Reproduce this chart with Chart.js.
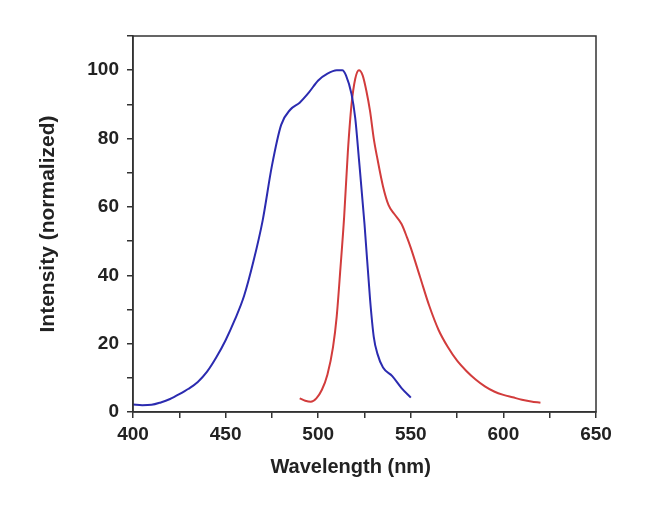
<!DOCTYPE html>
<html>
<head>
<meta charset="utf-8">
<script src="https://cdn.jsdelivr.net/npm/chart.js@4"></script>
<style>
  html, body { margin: 0; padding: 0; background: #fff; }
  #wrap { width: 650px; height: 517px; }
</style>
</head>
<body>
<div id="wrap"><canvas id="myChart"></canvas></div>
<script>
// excitation (blue) and emission (red) spectra
const blueX = [400, 405, 410, 415, 420, 425, 430, 435, 440, 445, 450, 455, 460, 465, 470, 475, 480, 485, 490, 495, 500, 505, 510, 513, 515, 518, 520, 522, 525, 528, 530, 532, 535, 540, 545, 550];
const blueY = [2.2, 2.0, 2.1, 2.8, 3.8, 5.2, 6.8, 8.8, 11.8, 16, 21, 27, 34, 44, 56, 72, 84, 88.5, 90.5, 93.5, 97, 99, 100, 100, 98.5, 93, 86, 74, 55, 33, 22, 17, 13, 10.5, 7, 4.2];

const redX = [490, 493, 496, 499, 502, 505, 508, 510, 512, 514, 516, 518, 520, 522, 524, 526, 528, 530, 532, 535, 538, 541, 545, 548, 550, 555, 560, 565, 570, 575, 580, 585, 590, 595, 600, 605, 610, 615, 620];
const redY = [4.0, 3.3, 3.0, 4.0, 6.5, 11, 19, 28, 42, 57, 76, 90, 97.5, 100, 98.5, 94, 88, 80, 74, 66, 60.5, 58, 55, 51, 48, 39.5, 31, 24, 19, 15, 12, 9.5, 7.5, 6, 5, 4.3, 3.6, 3.1, 2.7];

const xLabels = [400, 450, 500, 550, 600, 650];
const yLabels = [0, 20, 40, 60, 80, 100];

const toPoints = (xs, ys) => xs.map((x, i) => ({ x: x, y: ys[i] }));

const frame = {
  id: "frame",
  afterDraw(chart) {
    const a = chart.chartArea;
    const c = chart.ctx;
    c.save();
    c.strokeStyle = "#333";
    c.lineWidth = 1.5;
    c.strokeRect(a.left, a.top, a.right - a.left, a.bottom - a.top);
    c.restore();
  },
};

const family = "Liberation Sans, Arial, sans-serif";
const tickFont = { family: family, size: 19, weight: "bold" };

new Chart(document.getElementById("myChart"), {
  type: "line",
  data: {
    datasets: [
      {
        label: "Excitation",
        data: toPoints(blueX, blueY),
        borderColor: "#2b2bb0",
        borderWidth: 2,
        pointRadius: 0,
        cubicInterpolationMode: "monotone",
      },
      {
        label: "Emission",
        data: toPoints(redX, redY),
        borderColor: "#d23c3c",
        borderWidth: 2,
        pointRadius: 0,
        cubicInterpolationMode: "monotone",
      },
    ],
  },
  options: {
    responsive: true,
    maintainAspectRatio: false,
    animation: false,
    layout: { padding: { left: 36, right: 54, top: 36, bottom: 38 } },
    plugins: { legend: { display: false }, tooltip: { enabled: false } },
    scales: {
      x: {
        type: "linear",
        min: 400,
        max: 650,
        afterFit: (s) => { s.height = 67; },
        ticks: {
          stepSize: 25,
          padding: 5,
          color: "#222",
          font: tickFont,
          maxRotation: 0,
          callback: (v) => (xLabels.includes(v) ? v : ""),
        },
        grid: { drawOnChartArea: false, tickLength: 6, color: "#333", lineWidth: 1.5 },
        border: { color: "#333", width: 1.5 },
        title: {
          display: true,
          // trailing spaces nudge the title a little left, as in the picture
          text: "Wavelength (nm)     ",
          color: "#222",
          font: { family: family, size: 20, weight: "bold" },
          padding: 0,
        },
      },
      y: {
        min: 0,
        max: 110,
        afterFit: (s) => { s.width = 97; },
        ticks: {
          stepSize: 10,
          padding: 8,
          color: "#222",
          font: tickFont,
          callback: (v) => (yLabels.includes(v) ? v : ""),
        },
        grid: { drawOnChartArea: false, tickLength: 6, color: "#333", lineWidth: 1.5 },
        border: { color: "#333", width: 1.5 },
        title: {
          display: true,
          text: "Intensity (normalized)",
          color: "#222",
          font: { family: family, size: 21, weight: "bold" },
          padding: 0,
        },
      },
    },
  },
  plugins: [frame],
});
</script>
</body>
</html>
